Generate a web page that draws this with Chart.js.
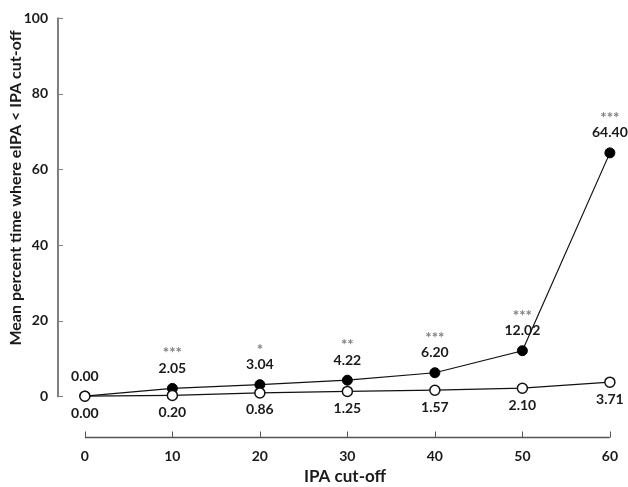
<!DOCTYPE html>
<html>
<head>
<meta charset="utf-8">
<script src="https://cdn.jsdelivr.net/npm/chart.js@4.4.1/dist/chart.umd.min.js"></script>
<style>
  html, body { margin: 0; padding: 0; background: #fff; }
  #wrap { width: 628px; height: 487px; position: relative; }
</style>
</head>
<body>
<div id="wrap"><canvas id="c"></canvas></div>
<script>
// ---- Data ----
const cutoffs = [0, 10, 20, 30, 40, 50, 60];
const filledValues = [0.00, 2.05, 3.04, 4.22, 6.20, 12.02, 64.40];
const openValues = [0.00, 0.20, 0.86, 1.25, 1.57, 2.10, 3.71];
const significance = ['', '***', '*', '**', '***', '***', '***'];
const xTickValues = [0, 10, 20, 30, 40, 50, 60];
const yTickValues = [0, 20, 40, 60, 80, 100];
const xTitle = 'IPA cut-off';
const yTitle = 'Mean percent time where eIPA < IPA cut-off';

const FONT = 'Lato, "DejaVu Sans", sans-serif';
const TEXT = '#1a1a1a';

const axesPlugin = {
  id: 'axesPlugin',
  beforeDatasetsDraw(chart) {
    const {ctx, chartArea, scales: {x, y}} = chart;
    ctx.save();
    // y axis line
    const yx = chartArea.left;
    const y0 = y.getPixelForValue(yTickValues[0]);
    const y1 = y.getPixelForValue(yTickValues[yTickValues.length - 1]);
    ctx.strokeStyle = '#808080';
    ctx.lineWidth = 2;
    ctx.beginPath();
    ctx.moveTo(yx, y0 + 1);
    ctx.lineTo(yx, y1 - 1);
    ctx.stroke();
    ctx.lineWidth = 1;
    yTickValues.forEach(v => {
      const py = Math.round(y.getPixelForValue(v)) + 0.5;
      ctx.beginPath();
      ctx.moveTo(yx, py);
      ctx.lineTo(yx + 5, py);
      ctx.stroke();
    });
    // x axis line
    const xb = Math.round(chartArea.bottom) - 0.5;
    const x0 = x.getPixelForValue(xTickValues[0]);
    const x1 = x.getPixelForValue(xTickValues[xTickValues.length - 1]);
    ctx.strokeStyle = '#555';
    ctx.lineWidth = 1.3;
    ctx.beginPath();
    ctx.moveTo(x0, xb);
    ctx.lineTo(x1, xb);
    ctx.stroke();
    ctx.lineWidth = 1;
    xTickValues.forEach(v => {
      const px = Math.round(x.getPixelForValue(v)) + 0.5;
      ctx.beginPath();
      ctx.moveTo(px, xb);
      ctx.lineTo(px, xb - 6);
      ctx.stroke();
    });
    // axis titles
    ctx.fillStyle = TEXT;
    ctx.textAlign = 'center';
    ctx.textBaseline = 'middle';
    ctx.font = 'bold 17px ' + FONT;
    ctx.fillText(xTitle, 345, 477);
    ctx.font = 'bold 16px ' + FONT;
    ctx.translate(16, 188);
    ctx.rotate(-Math.PI / 2);
    ctx.fillText(yTitle, 0, 0);
    ctx.restore();
  }
};

const labelsPlugin = {
  id: 'labelsPlugin',
  afterDatasetsDraw(chart) {
    const {ctx} = chart;
    ctx.save();
    ctx.textAlign = 'center';
    ctx.textBaseline = 'middle';
    const openMeta = chart.getDatasetMeta(0);
    const filledMeta = chart.getDatasetMeta(1);
    filledMeta.data.forEach((pt, i) => {
      ctx.fillStyle = TEXT;
      ctx.font = 'bold 14px ' + FONT;
      ctx.fillText(filledValues[i].toFixed(2), pt.x, pt.y - 20);
      if (significance[i]) {
        ctx.fillStyle = '#808080';
        ctx.font = 'bold 15px ' + FONT;
        ctx.fillText(significance[i], pt.x, pt.y - 35);
      }
    });
    openMeta.data.forEach((pt, i) => {
      ctx.fillStyle = TEXT;
      ctx.font = 'bold 14px ' + FONT;
      ctx.fillText(openValues[i].toFixed(2), pt.x, pt.y + 17);
    });
    ctx.restore();
  }
};

new Chart(document.getElementById('c'), {
  type: 'line',
  data: {
    datasets: [
      {
        label: 'open',
        data: cutoffs.map((c, i) => ({x: c, y: openValues[i]})),
        borderColor: '#111',
        borderWidth: 1.2,
        pointRadius: 5,
        pointBackgroundColor: '#fff',
        pointBorderColor: '#111',
        pointBorderWidth: 1.5,
        clip: false,
        order: 0
      },
      {
        label: 'filled',
        data: cutoffs.map((c, i) => ({x: c, y: filledValues[i]})),
        borderColor: '#111',
        borderWidth: 1.2,
        pointRadius: 5,
        pointBackgroundColor: '#000',
        pointBorderColor: '#000',
        pointBorderWidth: 1,
        clip: false,
        order: 1
      }
    ]
  },
  options: {
    responsive: true,
    maintainAspectRatio: false,
    animation: false,
    layout: { padding: { top: 7, right: 15, bottom: 0, left: 0 } },
    plugins: { legend: { display: false }, tooltip: { enabled: false } },
    scales: {
      x: {
        type: 'linear',
        min: -3.07,
        max: 60,
        afterBuildTicks: s => { s.ticks = xTickValues.map(v => ({value: v})); },
        afterFit: s => { s.height = 49; },
        grid: { display: false, drawTicks: false },
        border: { display: false },
        ticks: {
          padding: 10,
          color: TEXT,
          font: { family: FONT, size: 14, weight: 'bold' },
          maxRotation: 0,
          autoSkip: false
        },
        title: { display: false }
      },
      y: {
        type: 'linear',
        min: -11.08,
        max: 100,
        afterBuildTicks: s => { s.ticks = yTickValues.map(v => ({value: v})); },
        afterFit: s => { s.width = 58; },
        grid: { display: false, drawTicks: false },
        border: { display: false },
        ticks: {
          padding: 10,
          color: TEXT,
          font: { family: FONT, size: 14, weight: 'bold' }
        },
        title: { display: false }
      }
    }
  },
  plugins: [axesPlugin, labelsPlugin]
});
</script>
</body>
</html>
